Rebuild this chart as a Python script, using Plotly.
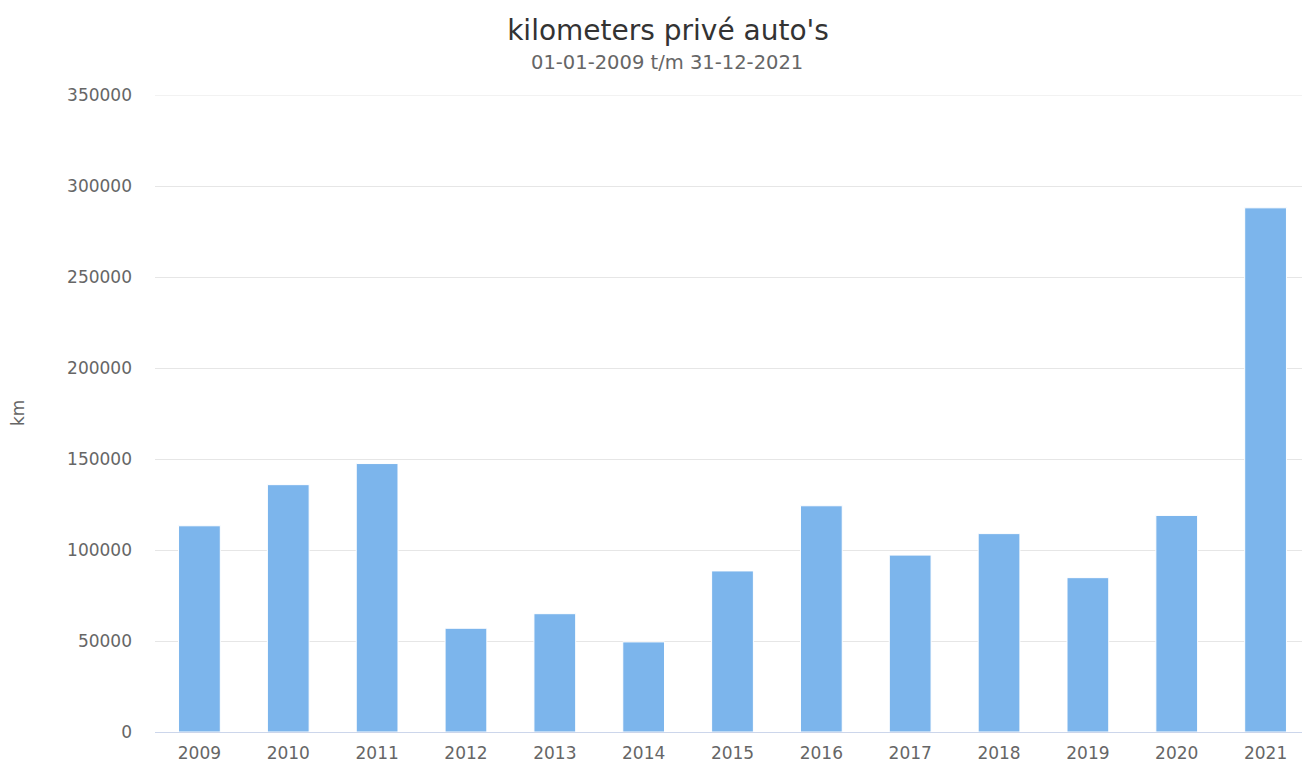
import plotly.graph_objects as go

years = ["2009", "2010", "2011", "2012", "2013", "2014", "2015",
         "2016", "2017", "2018", "2019", "2020", "2021"]
km = [113300, 135900, 147500, 57000, 65000, 49500, 88500,
      124300, 97200, 109000, 84800, 119000, 288000]
y_ticks = [0, 50000, 100000, 150000, 200000, 250000, 300000, 350000]
y_max = 350000

font_family = "DejaVu Sans, Verdana, sans-serif"

# page has an 8px body margin; figure sized so plot spans page x 155..1310, y 95..732
W, H = 1302, 759
L, R, T, B = 147, 0, 87, 35
pw, ph = W - L - R, H - T - B

def px_x(page_x):
    return (page_x - 8 - L) / pw

def px_y(page_y):
    return 1 - (page_y - 8 - T) / ph

fig = go.Figure()
fig.add_trace(go.Bar(
    x=years, y=km,
    marker=dict(color="#7cb5ec", line=dict(color="#ffffff", width=1)),
    hoverinfo="x+y",
))

# top gridline (plotly drops gridlines on the range edge)
fig.add_shape(type="line", xref="paper", yref="y", x0=0, x1=1, y0=y_max, y1=y_max,
              line=dict(color="#e6e6e6", width=1), layer="below")

fig.update_layout(
    width=W, height=H,
    margin=dict(l=L, r=R, t=T, b=B),
    paper_bgcolor="white", plot_bgcolor="white",
    bargap=0.53,
    showlegend=False,
    font=dict(family=font_family, color="#666666", size=17),
    title=dict(text="kilometers privé auto's", xref="paper", x=px_x(668), xanchor="center",
               yref="container", y=1 - (30 - 8) / H, yanchor="middle",
               font=dict(size=28, color="#333333", family=font_family)),
    annotations=[
        dict(text="01-01-2009 t/m 31-12-2021", xref="paper", yref="paper",
             x=px_x(667), y=px_y(63), xanchor="center", yanchor="middle",
             showarrow=False, font=dict(size=19.5, color="#666666", family=font_family)),
        dict(text="km", xref="paper", yref="paper", x=px_x(18), y=px_y(413),
             xanchor="center", yanchor="middle", textangle=-90, showarrow=False,
             font=dict(size=17, color="#666666", family=font_family)),
    ],
    xaxis=dict(type="category", showgrid=False, showline=True, linecolor="#ccd6eb",
               linewidth=1, ticks="", tickfont=dict(size=17, color="#666666"),
               ticklabelstandoff=6),
    yaxis=dict(range=[0, y_max], tickvals=y_ticks, tickformat="d",
               showgrid=True, gridcolor="#e6e6e6",
               gridwidth=1, zeroline=False, showline=False, ticks="",
               tickfont=dict(size=17, color="#666666"), ticklabelstandoff=22),
)

fig.write_html("out.html")
